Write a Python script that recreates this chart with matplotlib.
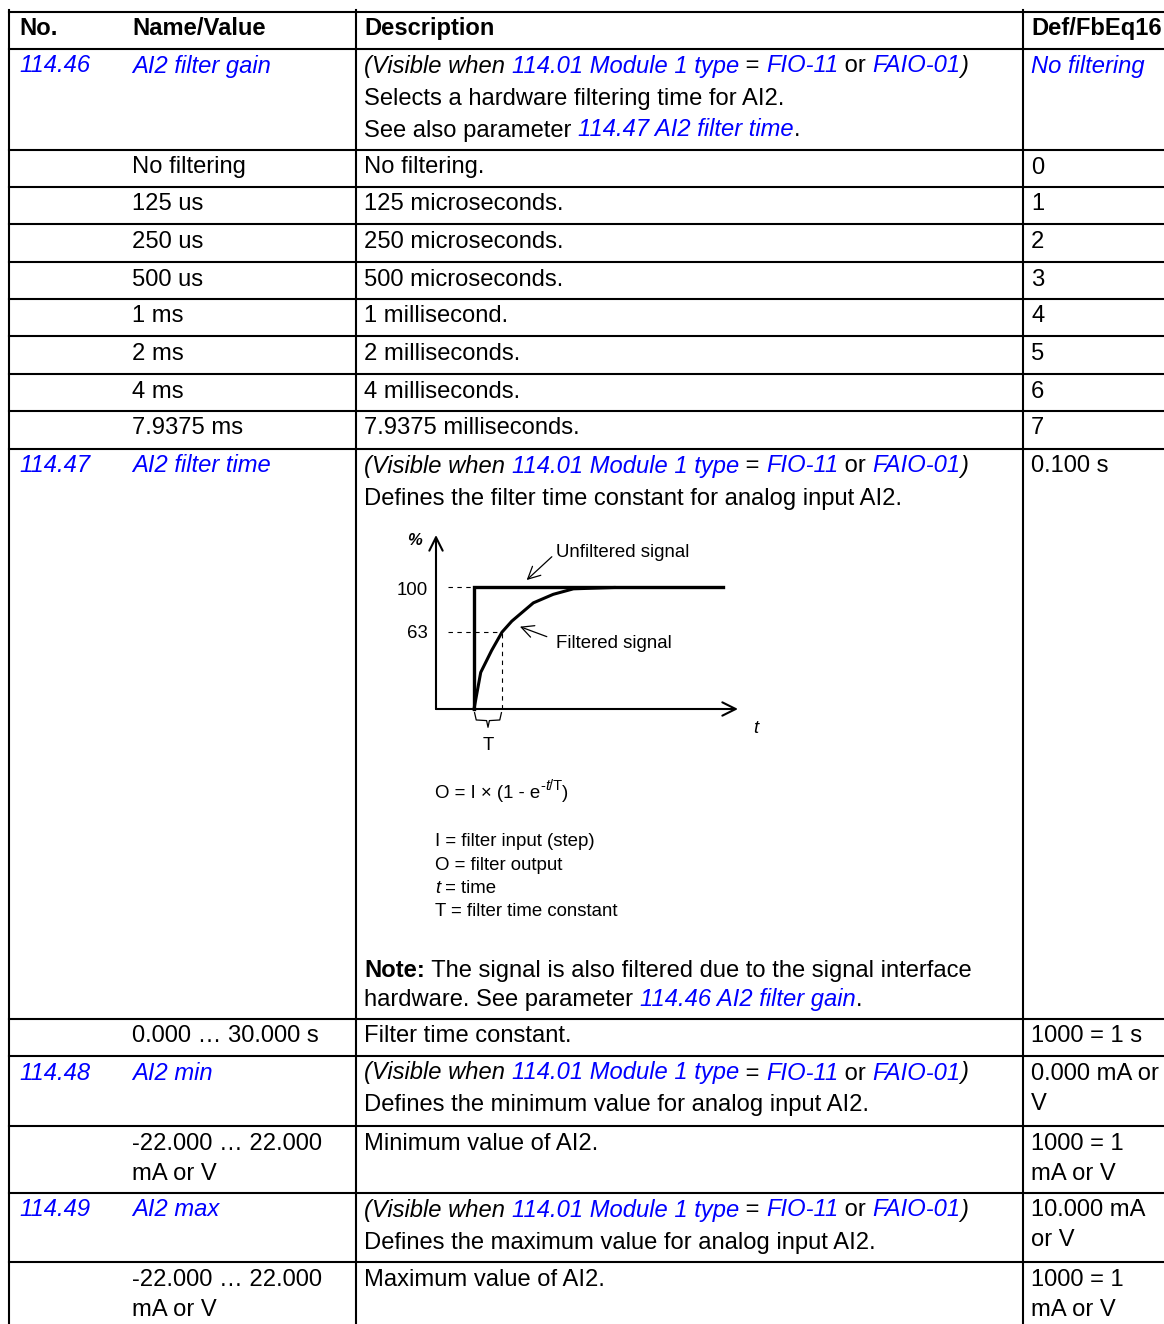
import matplotlib
matplotlib.use('Agg')
import matplotlib.pyplot as plt
from matplotlib.font_manager import FontProperties

plt.rcParams['font.family'] = ['Liberation Sans', 'DejaVu Sans']

BLUE = '#0000ff'
FS = 17.15   # table text
FS_D = 13.4  # diagram text

# ---- table content ----
header = ['No.', 'Name/Value', 'Description', 'Def/FbEq16']

par_no = ['114.46', '114.47', '114.48', '114.49']
par_name = ['AI2 filter gain', 'AI2 filter time', 'AI2 min', 'AI2 max']
par_desc = ['Selects a hardware filtering time for AI2.',
            'Defines the filter time constant for analog input AI2.',
            'Defines the minimum value for analog input AI2.',
            'Defines the maximum value for analog input AI2.']
par_def = [['No filtering'], ['0.100 s'], ['0.000 mA or', 'V'], ['10.000 mA', 'or V']]

gain_names = ['No filtering', '125 us', '250 us', '500 us', '1 ms', '2 ms', '4 ms', '7.9375 ms']
gain_desc = ['No filtering.', '125 microseconds.', '250 microseconds.', '500 microseconds.',
             '1 millisecond.', '2 milliseconds.', '4 milliseconds.', '7.9375 milliseconds.']
gain_fbeq = ['0', '1', '2', '3', '4', '5', '6', '7']

range_names = [['0.000 \u2026 30.000 s'], ['-22.000 \u2026 22.000', 'mA or V'],
               ['-22.000 \u2026 22.000', 'mA or V']]
range_desc = ['Filter time constant.', 'Minimum value of AI2.', 'Maximum value of AI2.']
range_fbeq = [['1000 = 1 s'], ['1000 = 1', 'mA or V'], ['1000 = 1', 'mA or V']]

visible = [('(Visible when ', 'i'), ('114.01 Module 1 type', 'L'), (' = ', 'n'),
           ('FIO-11', 'L'), (' or ', 'n'), ('FAIO-01', 'L'), (')', 'i')]
see_also = [('See also parameter ', 'n'), ('114.47 AI2 filter time', 'L'), ('.', 'n')]
note1 = [('Note:', 'b'), (' The signal is also filtered due to the signal interface', 'n')]
note2 = [('hardware. See parameter ', 'n'), ('114.46 AI2 filter gain', 'L'), ('.', 'n')]

# ---- step response diagram (t in units of T, value in %) ----
step_t = [0, 0, 8.89]
step_p = [0, 100, 100]
filt_t = [0, 0.24, 0.63, 1.0, 1.35, 2.12, 2.83, 3.55, 5.0]
filt_p = [0, 30, 48, 63, 72, 87, 94, 98.5, 99.6]

formula_lines = [[('I = filter input (step)', 'n')], [('O = filter output', 'n')],
                 [('t', 'i'), (' = time', 'n')], [('T = filter time constant', 'n')]]

# layout
row_tops = [12, 49, 150, 187, 224, 262, 299, 336, 374, 411, 449, 1019, 1056, 1126, 1193, 1262]
col_x = [19, 132, 364, 1031]
W, H = 1164, 1324

fig = plt.figure(figsize=(W / 100, H / 100), dpi=100)
ax = fig.add_axes([0, 0, 1, 1])
ax.set_xlim(0, W)
ax.set_ylim(H, 0)
ax.axis('off')
renderer = fig.canvas.get_renderer()


def props(st, size):
    if st == 'b':
        return FontProperties(family='Liberation Sans', weight='bold', size=size)
    if st in ('i', 'L'):
        return FontProperties(family='Liberation Sans', style='italic', size=size)
    return FontProperties(family='Liberation Sans', size=size)


def width(s, fp):
    t1 = ax.text(0, 0, '|' + s + '|', fontproperties=fp)
    t2 = ax.text(0, 0, '||', fontproperties=fp)
    w = t1.get_window_extent(renderer).width - t2.get_window_extent(renderer).width
    t1.remove()
    t2.remove()
    return w


def rich(x, y, parts, size=FS):
    for p in parts:
        s, st = p[0], p[1]
        sz = p[2] if len(p) > 2 else size
        dy = p[3] if len(p) > 3 else 0
        fp = props(st, sz)
        ax.text(x, y + dy, s, fontproperties=fp, color=BLUE if st == 'L' else 'black',
                va='baseline', ha='left')
        x += width(s, fp)


def lines_of(items, st='n'):
    return [[(s, st)] for s in items]


# build rows: (no, name, desc, def)
rows = []
rows.append((lines_of([par_no[0]], 'L'), lines_of([par_name[0]], 'L'),
             [visible, [(par_desc[0], 'n')], see_also], lines_of(par_def[0], 'L')))
for n, d, f in zip(gain_names, gain_desc, gain_fbeq):
    rows.append(([], lines_of([n]), lines_of([d]), lines_of([f])))
rows.append((lines_of([par_no[1]], 'L'), lines_of([par_name[1]], 'L'),
             [visible, [(par_desc[1], 'n')]], lines_of(par_def[1])))
for i in range(3):
    rows.append(([], lines_of(range_names[i]), lines_of([range_desc[i]]), lines_of(range_fbeq[i])))
    if i < 2:
        k = i + 2
        rows.append((lines_of([par_no[k]], 'L'), lines_of([par_name[k]], 'L'),
                     [visible, [(par_desc[k], 'n')]], lines_of(par_def[k])))

# header
for x, h in zip(col_x, header):
    rich(x, row_tops[0] + 23, [(h, 'b')])

for top, row in zip(row_tops[1:], rows):
    for c, cell in enumerate(row):
        sp = 32 if c == 2 else 30
        for i, parts in enumerate(cell):
            rich(col_x[c], top + 23.5 + i * sp, parts)

# note in 114.47 description
rich(col_x[2], 977, note1)
rich(col_x[2], 1006, note2)

# grid lines
for y in row_tops:
    ax.plot([9, W], [y, y], color='black', lw=1.5, solid_capstyle='projecting')
for x in [9, 356, 1023]:
    ax.plot([x, x], [10, H], color='black', lw=1.5)

# formula and legend
rich(435, 798, [('O = I \u00d7 (1 - e', 'n', FS_D), ('-', 'n', 10.5, -8), ('t', 'i', 10.5, -8),
                ('/T', 'n', 10.5, -8), (')', 'n', FS_D)])
for i, parts in enumerate(formula_lines):
    rich(435, 846 + i * 23.5, [(p[0], p[1], FS_D) for p in parts])

# diagram axes: 28 px per T, 1.22 px per %
px_t, px_p = 28.0, 1.22
x0px, y0px, stepx = 436, 709, 474
dax = fig.add_axes([x0px / W, 1 - y0px / H, 310 / W, 179 / H])
t0 = (x0px - stepx) / px_t
dax.set_xlim(t0, t0 + 310 / px_t)
dax.set_ylim(0, 179 / px_p)
dax.axis('off')

arr = dict(arrowstyle='->', lw=1.5, color='black', shrinkA=0, shrinkB=0, mutation_scale=24)
dax.annotate('', xy=(t0, (y0px - 535) / px_p), xytext=(t0, 0), arrowprops=arr, annotation_clip=False)
dax.annotate('', xy=((738 - stepx) / px_t, 0), xytext=(t0, 0), arrowprops=arr, annotation_clip=False)

dash = dict(color='black', lw=0.8, dashes=(4, 4))
dax.plot([-0.93, 0], [100, 100], **dash)
dax.plot([-0.93, 1.0], [63, 63], **dash)
dax.plot([1.0, 1.0], [0, 63], **dash)

dax.plot(step_t, step_p, color='black', lw=2.4, solid_joinstyle='miter', clip_on=False)
dax.plot(filt_t, filt_p, color='black', lw=2.2, clip_on=False)

# brace under T
dax.plot([0.02, 0.08, 0.45, 0.5, 0.55, 0.92, 0.98], [-3, -9, -9.5, -15, -9.5, -9, -3],
         color='black', lw=0.9, clip_on=False)

fpd = FontProperties(family='Liberation Sans', size=FS_D)
dax.text(-1.64, 93.4, '100', fontproperties=fpd, ha='right', va='baseline')
dax.text(-1.64, 58.2, '63', fontproperties=fpd, ha='right', va='baseline')
dax.text(-2.39, 134.4, '%', fontproperties=FontProperties(family='Liberation Sans', size=12,
                                                           weight='bold', style='italic'),
         ha='left', va='baseline')
dax.text(9.96, -19.7, 't', fontproperties=FontProperties(family='Liberation Sans', size=FS_D,
                                                          style='italic'), ha='left', va='baseline')
dax.text(0.5, -33.6, 'T', fontproperties=fpd, ha='center', va='baseline')
dax.text(2.93, 124.3, 'Unfiltered signal', fontproperties=fpd, ha='left', va='baseline')
dax.text(2.93, 49.7, 'Filtered signal', fontproperties=fpd, ha='left', va='baseline')

thin = dict(arrowstyle='->', lw=0.9, color='black', shrinkA=0, shrinkB=0, mutation_scale=22)
dax.annotate('', xy=(1.88, 105.7), xytext=(2.78, 124.8), arrowprops=thin, annotation_clip=False)
dax.annotate('', xy=(1.64, 67.5), xytext=(2.6, 59.3), arrowprops=thin, annotation_clip=False)

fig.savefig('out.png', dpi=100)
